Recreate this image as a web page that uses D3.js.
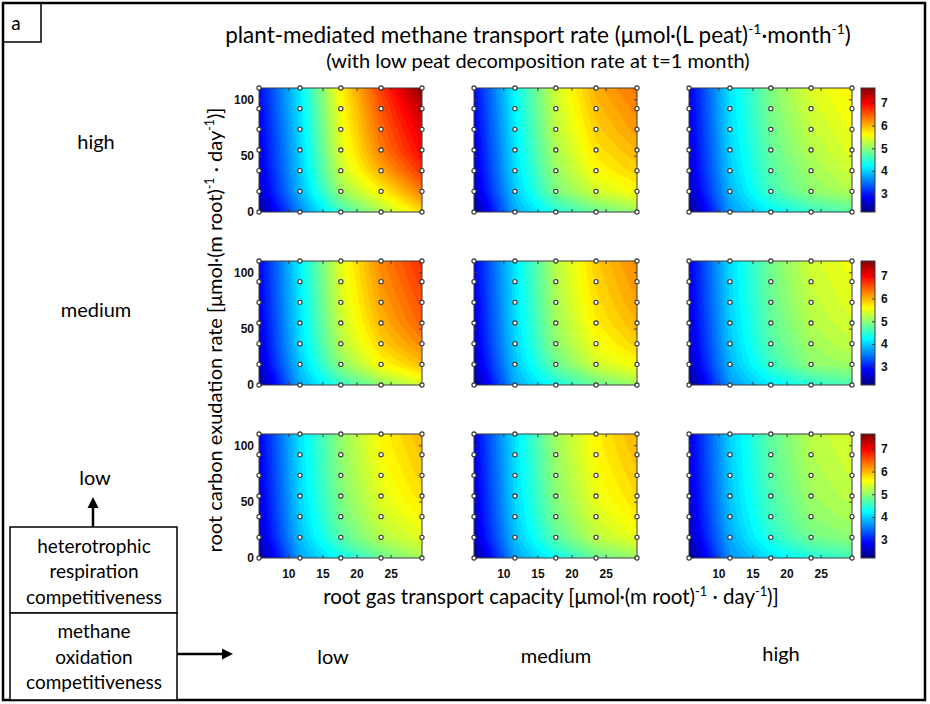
<!DOCTYPE html>
<html><head><meta charset="utf-8">
<script src="https://cdn.jsdelivr.net/npm/d3@7"></script>
<style>body{margin:0;background:#fff} svg{display:block}</style>
</head><body><svg id="c" width="930" height="704"></svg>
<script>
// ---------------- DATA ----------------
const xValues = [5.7, 11.7, 17.7, 23.6, 29.6];      // root gas transport capacity
const yValues = [0, 18.3, 36.7, 55, 73.3, 91.7, 110]; // root carbon exudation rate
const xTicks = [10, 15, 20, 25];
const yTicks = [0, 50, 100];
const cbTicks = [3, 4, 5, 6, 7];
const colorDomain = [2.2, 7.65];
const rowLabels = ["high", "medium", "low"];   // heterotrophic respiration competitiveness
const colLabels = ["low", "medium", "high"];   // methane oxidation competitiveness

// rows ordered by yValues (bottom -> top), columns by xValues
const rateHetHighMoxLow = [
  [2.30, 3.60, 4.55, 5.15, 5.80],
  [2.60, 3.85, 5.05, 5.65, 6.30],
  [2.70, 3.95, 5.30, 6.05, 6.70],
  [2.75, 4.00, 5.42, 6.30, 6.98],
  [2.80, 4.05, 5.50, 6.42, 7.12],
  [2.85, 4.10, 5.56, 6.52, 7.32],
  [2.90, 4.15, 5.65, 6.65, 7.60]];
const rateHetHighMoxMedium = [
  [2.30, 3.80, 4.40, 4.80, 5.05],
  [2.60, 3.95, 4.90, 5.35, 5.60],
  [2.70, 4.05, 5.05, 5.60, 5.85],
  [2.75, 4.10, 5.15, 5.75, 6.00],
  [2.80, 4.15, 5.25, 5.85, 6.15],
  [2.85, 4.20, 5.30, 5.95, 6.25],
  [2.90, 4.25, 5.35, 6.05, 6.35]];
const rateHetHighMoxHigh = [
  [2.25, 3.70, 4.20, 4.50, 4.70],
  [2.55, 3.85, 4.60, 5.00, 5.20],
  [2.65, 3.95, 4.70, 5.10, 5.35],
  [2.70, 4.00, 4.78, 5.20, 5.45],
  [2.75, 4.05, 4.83, 5.28, 5.52],
  [2.78, 4.08, 4.88, 5.35, 5.60],
  [2.80, 4.10, 4.92, 5.42, 5.68]];
const rateHetMediumMoxLow = [
  [2.30, 3.80, 4.50, 5.00, 5.40],
  [2.60, 3.95, 5.00, 5.60, 5.95],
  [2.70, 4.05, 5.20, 5.85, 6.25],
  [2.75, 4.10, 5.30, 6.00, 6.45],
  [2.80, 4.12, 5.38, 6.10, 6.55],
  [2.83, 4.15, 5.42, 6.18, 6.65],
  [2.85, 4.18, 5.47, 6.25, 6.75]];
const rateHetMediumMoxMedium = [
  [2.30, 3.80, 4.35, 4.80, 5.10],
  [2.60, 3.92, 4.80, 5.35, 5.60],
  [2.70, 4.00, 5.00, 5.55, 5.85],
  [2.75, 4.05, 5.08, 5.68, 6.00],
  [2.78, 4.08, 5.14, 5.76, 6.10],
  [2.82, 4.10, 5.18, 5.82, 6.18],
  [2.85, 4.12, 5.22, 5.88, 6.25]];
const rateHetMediumMoxHigh = [
  [2.25, 3.70, 4.15, 4.45, 4.65],
  [2.55, 3.85, 4.55, 5.00, 5.10],
  [2.65, 3.93, 4.68, 5.10, 5.28],
  [2.70, 3.98, 4.75, 5.20, 5.38],
  [2.74, 4.02, 4.80, 5.26, 5.45],
  [2.77, 4.04, 4.83, 5.31, 5.50],
  [2.80, 4.06, 4.86, 5.36, 5.56]];
const rateHetLowMoxLow = [
  [2.30, 3.75, 4.30, 4.80, 5.15],
  [2.60, 3.90, 4.70, 5.20, 5.45],
  [2.68, 3.98, 4.85, 5.35, 5.62],
  [2.72, 4.03, 4.92, 5.45, 5.75],
  [2.76, 4.06, 4.97, 5.52, 5.85],
  [2.79, 4.08, 5.00, 5.58, 5.92],
  [2.82, 4.10, 5.03, 5.62, 6.00]];
const rateHetLowMoxMedium = [
  [2.30, 3.75, 4.30, 4.80, 5.05],
  [2.60, 3.90, 4.72, 5.25, 5.50],
  [2.68, 3.98, 4.88, 5.40, 5.68],
  [2.72, 4.03, 4.96, 5.50, 5.80],
  [2.76, 4.06, 5.02, 5.56, 5.88],
  [2.80, 4.08, 5.06, 5.62, 5.95],
  [2.83, 4.10, 5.10, 5.66, 6.02]];
const rateHetLowMoxHigh = [
  [2.25, 3.65, 4.10, 4.40, 4.60],
  [2.52, 3.80, 4.45, 4.85, 5.00],
  [2.62, 3.88, 4.58, 5.00, 5.15],
  [2.67, 3.93, 4.65, 5.08, 5.25],
  [2.71, 3.96, 4.70, 5.14, 5.32],
  [2.74, 3.98, 4.73, 5.19, 5.37],
  [2.76, 4.00, 4.76, 5.23, 5.42]];

const panels = [
  [rateHetHighMoxLow, rateHetHighMoxMedium, rateHetHighMoxHigh],
  [rateHetMediumMoxLow, rateHetMediumMoxMedium, rateHetMediumMoxHigh],
  [rateHetLowMoxLow, rateHetLowMoxMedium, rateHetLowMoxHigh]];

// ---------------- LAYOUT ----------------
const svg = d3.select('#c');
const colLeft = [259, 474, 689], panelW = 163;
const rowTop = [88, 261, 434], panelH = 124;
const cbX = 861, cbW = 14;
const TXT = "Lato, 'Open Sans', sans-serif";
const AX = "'Liberation Sans', Arial, sans-serif";

const cl = v => Math.max(0, Math.min(1, v));
function jet(t) {
  t = cl(t);
  return d3.rgb(255 * cl(1.5 - Math.abs(4 * t - 3)), 255 * cl(1.5 - Math.abs(4 * t - 2)), 255 * cl(1.5 - Math.abs(4 * t - 1))) + '';
}
const cNorm = d3.scaleLinear().domain(colorDomain).range([0, 1]);
const thresholds = d3.range(2.0, 7.9, 0.1);

const idxX = d3.scaleLinear().domain(xValues).range(d3.range(xValues.length)).clamp(true);
const idxY = d3.scaleLinear().domain(yValues).range(d3.range(yValues.length)).clamp(true);
const NX = 121, NY = 93;
const xDom = d3.extent(xValues), yDom = d3.extent(yValues);

function bilinear(data, xv, yv) {
  const fx = idxX(xv), fy = idxY(yv);
  const i0 = Math.min(Math.floor(fx), xValues.length - 2), j0 = Math.min(Math.floor(fy), yValues.length - 2);
  const tx = fx - i0, ty = fy - j0;
  const a = data[j0][i0], b = data[j0][i0 + 1], c = data[j0 + 1][i0], d = data[j0 + 1][i0 + 1];
  return a * (1 - tx) * (1 - ty) + b * tx * (1 - ty) + c * (1 - tx) * ty + d * tx * ty;
}

const defs = svg.append('defs');

panels.forEach((row, r) => {
  row.forEach((data, c) => {
    const x0 = colLeft[c], y0 = rowTop[r];
    const x = d3.scaleLinear().domain(xDom).range([x0, x0 + panelW]);
    const y = d3.scaleLinear().domain(yDom).range([y0 + panelH, y0]);
    const gxToVal = d3.scaleLinear().domain([0.5, NX - 0.5]).range(xDom);
    const gyToVal = d3.scaleLinear().domain([0.5, NY - 0.5]).range([yDom[1], yDom[0]]);
    const grid = new Array(NX * NY);
    for (let j = 0; j < NY; j++) for (let i = 0; i < NX; i++) {
      grid[j * NX + i] = bilinear(data, gxToVal(i + 0.5), gyToVal(j + 0.5));
    }
    const contours = d3.contours().size([NX, NY]).thresholds(thresholds)(grid);
    const proj = d3.geoTransform({ point(px, py) { this.stream.point(x(gxToVal(px)), y(gyToVal(py))); } });
    const path = d3.geoPath(proj);
    const id = `clip${r}${c}`;
    defs.append('clipPath').attr('id', id).append('rect')
      .attr('x', x0).attr('y', y0).attr('width', panelW).attr('height', panelH);
    const g = svg.append('g');
    g.append('g').attr('clip-path', `url(#${id})`).selectAll('path').data(contours).join('path')
      .attr('d', path)
      .attr('fill', d => jet(cNorm(d.value + 0.05)))
      .attr('stroke', d => jet(cNorm(d.value + 0.05))).attr('stroke-width', 0.4);
    g.append('rect').attr('x', x0).attr('y', y0).attr('width', panelW).attr('height', panelH)
      .attr('fill', 'none').attr('stroke', '#3a3a3a').attr('stroke-width', 1);

    const axStyle = sel => {
      sel.select('.domain').remove();
      sel.selectAll('line').attr('stroke', '#3a3a3a');
      sel.selectAll('text').attr('font-family', AX).attr('font-weight', 'bold').attr('font-size', 12).attr('fill', '#111');
    };
    g.append('g').attr('transform', `translate(0,${y0 + panelH})`)
      .call(d3.axisBottom(x).tickValues(xTicks).tickSizeInner(-3).tickSizeOuter(0).tickPadding(11)
        .tickFormat(r === 2 ? d3.format('d') : () => ''))
      .call(axStyle);
    g.append('g').attr('transform', `translate(0,${y0})`)
      .call(d3.axisTop(x).tickValues(xTicks).tickSizeInner(-3).tickSizeOuter(0).tickFormat(() => ''))
      .call(axStyle);
    g.append('g').attr('transform', `translate(${x0},0)`)
      .call(d3.axisLeft(y).tickValues(yTicks).tickSizeInner(-3).tickSizeOuter(0).tickPadding(5)
        .tickFormat(c === 0 ? d3.format('d') : () => ''))
      .call(axStyle);
    g.append('g').attr('transform', `translate(${x0 + panelW},0)`)
      .call(d3.axisRight(y).tickValues(yTicks).tickSizeInner(-3).tickSizeOuter(0).tickFormat(() => ''))
      .call(axStyle);

    const pts = [];
    yValues.forEach(yv => xValues.forEach(xv => pts.push([xv, yv])));
    g.append('g').selectAll('circle').data(pts).join('circle')
      .attr('cx', d => x(d[0])).attr('cy', d => y(d[1])).attr('r', 2.1)
      .attr('fill', '#fff').attr('stroke', '#333').attr('stroke-width', 1.1);
  });

  // colorbar for this row
  const y0 = rowTop[r];
  const cb = d3.scaleLinear().domain(colorDomain).range([y0 + panelH, y0]);
  const gid = `grad${r}`;
  const grad = defs.append('linearGradient').attr('id', gid).attr('x1', 0).attr('y1', 1).attr('x2', 0).attr('y2', 0);
  d3.range(0, 1.0001, 1 / 32).forEach(t => grad.append('stop').attr('offset', t).attr('stop-color', jet(t)));
  svg.append('rect').attr('x', cbX).attr('y', y0).attr('width', cbW).attr('height', panelH)
    .attr('fill', `url(#${gid})`).attr('stroke', '#3a3a3a').attr('stroke-width', 1);
  svg.append('g').attr('transform', `translate(${cbX + cbW},0)`)
    .call(d3.axisRight(cb).tickValues(cbTicks).tickSizeInner(-3).tickSizeOuter(0).tickPadding(6).tickFormat(d3.format('d')))
    .call(sel => {
      sel.select('.domain').remove();
      sel.selectAll('line').attr('stroke', '#3a3a3a');
      sel.selectAll('text').attr('font-family', AX).attr('font-weight', 'bold').attr('font-size', 12).attr('fill', '#111');
    });
});

// ---------------- TEXT ----------------
function rich(sel, parts, fs) {
  let shift = 0;
  parts.forEach(([s, sup]) => {
    const target = sup ? -fs * 0.38 : 0;
    sel.append('tspan').attr('dy', target - shift).attr('font-size', sup ? fs * 0.62 : fs).text(s);
    shift = target;
  });
}
const T = (x, y, fs) => svg.append('text').attr('x', x).attr('y', y).attr('font-family', TXT)
  .attr('font-size', fs).attr('text-anchor', 'middle').attr('fill', '#000');

rich(T(538, 43, 22.5), [["plant-mediated methane transport rate (μmol·(L peat)"], ["-1", 1], ["·month"], ["-1", 1], [")"]], 22.5);
T(538, 68, 20).text("(with low peat decomposition rate at t=1 month)");
rich(T(551, 604, 20.5), [["root gas transport capacity [μmol·(m root)"], ["-1", 1], [" · day"], ["-1", 1], [")]"]], 20.5);
rich(T(0, 0, 20).attr('transform', 'translate(222,330) rotate(-90)'),
  [["root carbon exudation rate [μmol·(m root)"], ["-1", 1], [" · day"], ["-1", 1], [")]"]], 20);

const rowLabelY = [149, 317, 485], rowLabelX = [96, 96, 95];
rowLabels.forEach((s, i) => T(rowLabelX[i], rowLabelY[i], 20).text(s));
const colLabelX = [333, 556, 781], colLabelY = [664, 663, 661];
colLabels.forEach((s, i) => T(colLabelX[i], colLabelY[i], 20).text(s));

// frames
svg.append('rect').attr('x', 3).attr('y', 3).attr('width', 922).attr('height', 697)
  .attr('fill', 'none').attr('stroke', '#000').attr('stroke-width', 2.5);
svg.append('rect').attr('x', 3).attr('y', 3).attr('width', 38).attr('height', 39)
  .attr('fill', 'none').attr('stroke', '#000').attr('stroke-width', 1.5);
T(16, 30, 19).text('a');
svg.append('rect').attr('x', 10).attr('y', 527).attr('width', 167).attr('height', 86)
  .attr('fill', '#fff').attr('stroke', '#000').attr('stroke-width', 1.5);
svg.append('rect').attr('x', 10).attr('y', 613).attr('width', 167).attr('height', 87)
  .attr('fill', '#fff').attr('stroke', '#000').attr('stroke-width', 1.5);
["heterotrophic", "respiration", "competitiveness"].forEach((s, i) => T(94, 552.5 + i * 25.5, 19).text(s));
["methane", "oxidation", "competitiveness"].forEach((s, i) => T(94, 638 + i * 25.5, 19).text(s));

// arrows
svg.append('line').attr('x1', 93).attr('y1', 527).attr('x2', 93).attr('y2', 505)
  .attr('stroke', '#000').attr('stroke-width', 2.5);
svg.append('path').attr('d', 'M93,497 L87.5,508 L98.5,508 Z').attr('fill', '#000');
svg.append('line').attr('x1', 177).attr('y1', 654).attr('x2', 224).attr('y2', 654)
  .attr('stroke', '#000').attr('stroke-width', 2.5);
svg.append('path').attr('d', 'M233,654 L222,648.5 L222,659.5 Z').attr('fill', '#000');
</script></body></html>
